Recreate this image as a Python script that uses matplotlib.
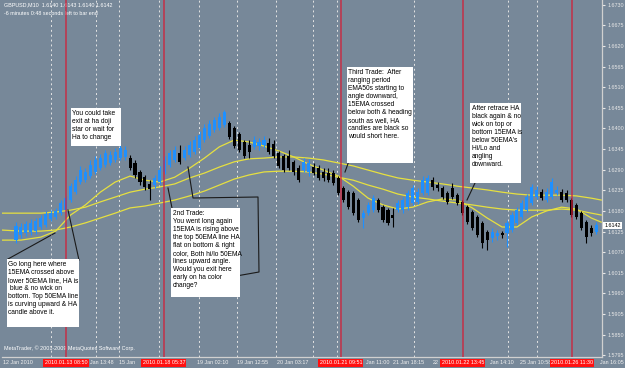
import numpy as np
import matplotlib.pyplot as plt
from matplotlib import font_manager
from matplotlib.patches import Rectangle
from matplotlib.lines import Line2D
from matplotlib.transforms import blended_transform_factory

# heiken ashi bars, GBPUSD M10
opens = [1.6102, 1.6116, 1.6121, 1.6124, 1.6126, 1.6137, 1.6142, 1.6158, 1.6164, 1.6174,
         1.6182, 1.6209, 1.6230, 1.6257, 1.6262, 1.6273, 1.6284, 1.6294, 1.6303, 1.6308,
         1.6316, 1.6321, 1.6324, 1.6321, 1.6308, 1.6284, 1.6270, 1.6252, 1.6249, 1.6257,
         1.6284, 1.6303, 1.6316, 1.6335, 1.6321, 1.6329, 1.6337, 1.6348, 1.6369, 1.6380,
         1.6396, 1.6401, 1.6409, 1.6415, 1.6401, 1.6385, 1.6364, 1.6356, 1.6351, 1.6353,
         1.6356, 1.6361, 1.6359, 1.6335, 1.6327, 1.6327, 1.6311, 1.6294, 1.6289, 1.6284,
         1.6297, 1.6294, 1.6284, 1.6281, 1.6281, 1.6268, 1.6241, 1.6230, 1.6228, 1.6209,
         1.6161, 1.6174, 1.6182, 1.6209, 1.6190, 1.6182, 1.6169, 1.6182, 1.6182, 1.6190,
         1.6201, 1.6204, 1.6228, 1.6228, 1.6262, 1.6249, 1.6241, 1.6228, 1.6241, 1.6222,
         1.6204, 1.6190, 1.6177, 1.6164, 1.6148, 1.6124, 1.6108, 1.6113, 1.6121, 1.6121,
         1.6129, 1.6148, 1.6164, 1.6182, 1.6201, 1.6217, 1.6230, 1.6209, 1.6217, 1.6228,
         1.6230, 1.6228, 1.6209, 1.6196, 1.6174, 1.6150, 1.6134, 1.6124]
highs = [1.6150, 1.6148, 1.6153, 1.6158, 1.6161, 1.6169, 1.6180, 1.6182, 1.6188, 1.6209,
         1.6220, 1.6254, 1.6273, 1.6300, 1.6294, 1.6316, 1.6327, 1.6332, 1.6343, 1.6340,
         1.6348, 1.6359, 1.6353, 1.6329, 1.6316, 1.6289, 1.6276, 1.6262, 1.6276, 1.6300,
         1.6327, 1.6343, 1.6353, 1.6356, 1.6353, 1.6367, 1.6380, 1.6393, 1.6412, 1.6423,
         1.6431, 1.6441, 1.6449, 1.6420, 1.6407, 1.6391, 1.6369, 1.6369, 1.6380, 1.6375,
         1.6380, 1.6375, 1.6369, 1.6340, 1.6332, 1.6343, 1.6316, 1.6303, 1.6321, 1.6319,
         1.6308, 1.6303, 1.6294, 1.6294, 1.6289, 1.6273, 1.6246, 1.6236, 1.6233, 1.6214,
         1.6182, 1.6204, 1.6222, 1.6214, 1.6196, 1.6188, 1.6188, 1.6209, 1.6217, 1.6236,
         1.6249, 1.6241, 1.6273, 1.6276, 1.6270, 1.6257, 1.6246, 1.6233, 1.6254, 1.6228,
         1.6209, 1.6196, 1.6182, 1.6169, 1.6153, 1.6129, 1.6134, 1.6129, 1.6126, 1.6156,
         1.6177, 1.6190, 1.6209, 1.6225, 1.6252, 1.6246, 1.6238, 1.6241, 1.6268, 1.6246,
         1.6238, 1.6236, 1.6214, 1.6201, 1.6180, 1.6156, 1.6142, 1.6150]
lows = [1.6094, 1.6108, 1.6113, 1.6116, 1.6118, 1.6132, 1.6137, 1.6153, 1.6158, 1.6169,
        1.6177, 1.6204, 1.6225, 1.6252, 1.6257, 1.6268, 1.6278, 1.6289, 1.6297, 1.6303,
        1.6311, 1.6316, 1.6316, 1.6289, 1.6268, 1.6249, 1.6236, 1.6209, 1.6241, 1.6252,
        1.6278, 1.6297, 1.6311, 1.6305, 1.6316, 1.6324, 1.6332, 1.6343, 1.6364, 1.6375,
        1.6391, 1.6396, 1.6404, 1.6372, 1.6348, 1.6337, 1.6321, 1.6321, 1.6345, 1.6343,
        1.6348, 1.6332, 1.6321, 1.6294, 1.6284, 1.6289, 1.6276, 1.6257, 1.6284, 1.6273,
        1.6276, 1.6262, 1.6260, 1.6257, 1.6249, 1.6222, 1.6204, 1.6185, 1.6169, 1.6150,
        1.6134, 1.6169, 1.6177, 1.6177, 1.6150, 1.6142, 1.6137, 1.6177, 1.6174, 1.6182,
        1.6196, 1.6198, 1.6222, 1.6222, 1.6236, 1.6233, 1.6212, 1.6198, 1.6212, 1.6196,
        1.6169, 1.6145, 1.6129, 1.6110, 1.6081, 1.6076, 1.6097, 1.6102, 1.6108, 1.6084,
        1.6124, 1.6142, 1.6158, 1.6177, 1.6196, 1.6212, 1.6209, 1.6204, 1.6212, 1.6222,
        1.6204, 1.6204, 1.6164, 1.6158, 1.6129, 1.6094, 1.6113, 1.6118]
closes = [1.6140, 1.6137, 1.6145, 1.6148, 1.6153, 1.6161, 1.6172, 1.6174, 1.6180, 1.6201,
          1.6214, 1.6246, 1.6262, 1.6289, 1.6284, 1.6303, 1.6316, 1.6321, 1.6335, 1.6329,
          1.6337, 1.6348, 1.6343, 1.6294, 1.6276, 1.6257, 1.6244, 1.6238, 1.6268, 1.6289,
          1.6316, 1.6335, 1.6343, 1.6311, 1.6343, 1.6356, 1.6369, 1.6383, 1.6401, 1.6412,
          1.6423, 1.6431, 1.6444, 1.6377, 1.6353, 1.6343, 1.6327, 1.6337, 1.6369, 1.6364,
          1.6369, 1.6337, 1.6327, 1.6300, 1.6289, 1.6294, 1.6284, 1.6262, 1.6311, 1.6308,
          1.6281, 1.6268, 1.6268, 1.6262, 1.6254, 1.6228, 1.6209, 1.6190, 1.6174, 1.6156,
          1.6174, 1.6196, 1.6214, 1.6182, 1.6156, 1.6148, 1.6161, 1.6201, 1.6209, 1.6228,
          1.6241, 1.6230, 1.6262, 1.6268, 1.6244, 1.6241, 1.6217, 1.6204, 1.6217, 1.6201,
          1.6174, 1.6150, 1.6134, 1.6116, 1.6094, 1.6102, 1.6124, 1.6121, 1.6116, 1.6148,
          1.6169, 1.6182, 1.6201, 1.6217, 1.6244, 1.6236, 1.6214, 1.6230, 1.6257, 1.6236,
          1.6209, 1.6209, 1.6169, 1.6164, 1.6134, 1.6110, 1.6121, 1.6142]

# moving averages read every few bars
ema_bars = [-3, 1, 5, 8, 11, 14, 17, 20, 23, 26, 29, 32, 35, 38, 41, 44, 47, 50, 53, 56,
            59, 62, 65, 68, 71, 74, 77, 80, 83, 86, 89, 92, 95, 98, 101, 104, 107, 110, 113, 116, 118]
ema50_hi = [1.6174, 1.6174, 1.6174, 1.6177, 1.6182, 1.6190, 1.6204, 1.6217, 1.6230, 1.6238,
            1.6244, 1.6252, 1.6268, 1.6281, 1.6297, 1.6311, 1.6319, 1.6321, 1.6324, 1.6324,
            1.6321, 1.6316, 1.6308, 1.6300, 1.6289, 1.6278, 1.6268, 1.6262, 1.6257, 1.6252,
            1.6246, 1.6241, 1.6236, 1.6230, 1.6225, 1.6222, 1.6222, 1.6222, 1.6220, 1.6214, 1.6209]
ema50_lo = [1.6129, 1.6126, 1.6126, 1.6129, 1.6137, 1.6148, 1.6161, 1.6174, 1.6188, 1.6193,
            1.6201, 1.6209, 1.6220, 1.6233, 1.6249, 1.6265, 1.6276, 1.6284, 1.6286, 1.6286,
            1.6284, 1.6278, 1.6270, 1.6262, 1.6249, 1.6238, 1.6225, 1.6217, 1.6212, 1.6206,
            1.6201, 1.6196, 1.6190, 1.6185, 1.6182, 1.6182, 1.6182, 1.6185, 1.6182, 1.6174, 1.6169]
ema15 = [1.6102, 1.6102, 1.6110, 1.6126, 1.6169, 1.6196, 1.6230, 1.6257, 1.6273, 1.6262,
         1.6257, 1.6270, 1.6294, 1.6321, 1.6351, 1.6369, 1.6364, 1.6353, 1.6340, 1.6324,
         1.6305, 1.6289, 1.6273, 1.6246, 1.6214, 1.6196, 1.6185, 1.6190, 1.6204, 1.6212,
         1.6209, 1.6188, 1.6161, 1.6137, 1.6137, 1.6164, 1.6180, 1.6190, 1.6185, 1.6161, 1.6150]

# vertical lines, grid, time scale (only the parts not hidden by the red tags)
red_bars = [10.1, 29.8, 65.5, 90.1, 112.1]
red_labels = ["2010.01.13 08:50", "2010.01.18 05:37", "2010.01.21 09:51",
              "2010.01.22 13:45", "2010.01.26 11:30"]
grid_bars = [7.1, 16.1, 20.8, 28.8, 36.9, 44.6, 52.4, 59.9, 64.7, 80.2, 99.2, 105.0]
time_bars = [-2.6, 14.9, 20.8, 36.5, 44.6, 52.6, 70.6, 76.0, 84.1, 95.6, 101.7, 117.7]
time_labels = ["12 Jan 2010", "Jan 13:48", "15 Jan", "19 Jan 02:10", "19 Jan 12:55",
               "20 Jan 03:17", "Jan 11:00", "21 Jan 18:15", "22", "Jan 14:10",
               "25 Jan 10:58", "Jan 16:05"]
price_ticks = [1.6730, 1.6675, 1.6620, 1.6565, 1.6510, 1.6455, 1.6400, 1.6345, 1.6290,
               1.6235, 1.6180, 1.6125, 1.6070, 1.6015, 1.5960, 1.5905, 1.5850, 1.5795]
last_price = 1.6142

BG = '#778899'
BLUE = '#1e90ff'
RED = '#d0203a'
EMA = '#e6e040'

names = {f.name for f in font_manager.fontManager.ttflist}
if 'Liberation Sans Narrow' in names:
    FONT, fs_note, fs_axis = 'Liberation Sans Narrow', 5.7, 4.6
else:
    FONT, fs_note, fs_axis = 'Liberation Sans', 4.8, 3.9
plt.rcParams['font.family'] = [FONT, 'DejaVu Sans']

W, H = 625, 368
fig = plt.figure(figsize=(6.25, 3.68), dpi=100, facecolor=BG)
ax = fig.add_axes([2 / W, 11 / H, 600 / W, 357 / H], facecolor=BG)

o = np.array(opens)
c = np.array(closes)
x = np.arange(len(o))
col = np.where(c >= o, BLUE, 'black')

for g in grid_bars:
    ax.axvline(g, color='#e4e4e4', lw=0.7, ls=(0, (2, 3)), zorder=0.5)

ax.plot(ema_bars, ema50_hi, color=EMA, lw=0.9, zorder=2)
ax.plot(ema_bars, ema50_lo, color=EMA, lw=0.9, zorder=2)
ax.plot(ema_bars, ema15, color=EMA, lw=0.9, zorder=2)

ax.vlines(x, lows, highs, colors=col, lw=0.8, zorder=3)
body = np.maximum(np.abs(c - o), 0.00012)
ax.bar(x, body, bottom=np.minimum(o, c), width=0.62, color=col, lw=0, zorder=3)

for b in red_bars:
    ax.axvline(b, color=RED, lw=1.1, zorder=4, alpha=0.85)

ax.set_xlim(-2.82, 118.15)
ax.set_ylim(1.5790, 1.6743)
ax.set_xticks([])
ax.yaxis.tick_right()
ax.set_yticks(price_ticks)
ax.set_yticklabels(['%.4f' % p for p in price_ticks])
ax.tick_params(axis='y', colors='#e8e8e8', labelsize=fs_axis, length=2.5, width=0.8, pad=1.5)
for s in ['left', 'top']:
    ax.spines[s].set_visible(False)
for s in ['right', 'bottom']:
    ax.spines[s].set_color('#d0d0d0')
    ax.spines[s].set_linewidth(0.9)

tx = blended_transform_factory(ax.transData, ax.transAxes)
for b, t in zip(time_bars, time_labels):
    ax.text(b, -0.016, t, transform=tx, ha='left', va='center', color='#f0f0f0',
            fontsize=fs_axis, clip_on=False)
for b, t in zip(red_bars, red_labels):
    ax.text(b, -0.016, t, transform=tx, ha='center', va='center', color='white',
            fontsize=fs_axis, clip_on=False, zorder=6,
            bbox=dict(boxstyle='square,pad=0.25', fc='#ff1010', ec='none'))

ty = blended_transform_factory(ax.transAxes, ax.transData)
ax.text(1.004, last_price, '%.4f' % last_price, transform=ty, ha='left', va='center',
        fontsize=fs_axis, color='black', clip_on=False, zorder=6,
        bbox=dict(boxstyle='square,pad=0.2', fc='white', ec='none'))

ax.text(0.003, 0.987, 'GBPUSD,M10  1.6140 1.6143 1.6140 1.6142', transform=ax.transAxes,
        ha='left', va='center', color='white', fontsize=fs_axis)
ax.text(0.003, 0.963, '-6 minutes 0:48 seconds left to bar end', transform=ax.transAxes,
        ha='left', va='center', color='white', fontsize=fs_axis)
ax.text(0.003, 0.025, 'MetaTrader, \u00a9 2001-2009 MetaQuotes Software Corp.',
        transform=ax.transAxes, ha='left', va='center', color='white', fontsize=fs_axis)


def fp(px, py):
    return px / W, 1 - py / H


# pointer lines from the notes
pointers = [
    [(8, 259), (55, 233)],
    [(79, 260), (68, 210)],
    [(172, 208), (168, 188)],
    [(188, 167), (193, 198), (258, 197), (259, 272), (225, 278)],
    [(350, 158), (345, 172)],
    [(475, 183), (467, 200)],
]
for pts in pointers:
    xs = [fp(*p)[0] for p in pts]
    ys = [fp(*p)[1] for p in pts]
    fig.add_artist(Line2D(xs, ys, color='#1a1a1a', lw=0.8, zorder=5))

notes = [
    ((71, 108, 121, 146), "You could take\nexit at ha doji\nstar or wait for\nHa to change"),
    ((7, 259, 79, 327), "Go long here where\n15EMA crossed above\nlower 50EMA line, HA is\n"
                        " blue & no wick on\nbottom. Top 50EMA line\nis curving upward & HA\n"
                        "candle above it."),
    ((171, 208, 240, 297), "2nd Trade:\nYou went long again\n15EMA is rising above\n"
                           "the top 50EMA line HA\nflat on bottom & right\ncolor, Both hi/lo 50EMA\n"
                           "lines upward angle.\nWould you exit here\nearly on ha color\nchange?"),
    ((347, 67, 413, 163), "Third Trade:  After\nranging period\nEMA50s starting to\nangle downward,\n"
                          "15EMA crossed\nbelow both & heading\nsouth as well, HA\n"
                          "candles are black so\nwould short here."),
    ((470, 103, 521, 183), "After retrace HA\nblack again & no\nwick on top or\nbottom 15EMA is\n"
                           "below 50EMA's\nHi/Lo and\nangling\ndownward."),
]
for (x0, y0, x1, y1), txt in notes:
    fx0, fy1 = fp(x0, y1)
    fx1, fy0 = fp(x1, y0)
    fig.add_artist(Rectangle((fx0, fy1), fx1 - fx0, fy0 - fy1, transform=fig.transFigure,
                             fc='white', ec='none', zorder=6))
    tx0, ty0 = fp(x0 + 1.5, y0 + 2)
    fig.text(tx0, ty0, txt, ha='left', va='top', fontsize=fs_note, color='black',
             linespacing=1.2, zorder=7)

fig.savefig('out.png', dpi=100, facecolor=BG)
